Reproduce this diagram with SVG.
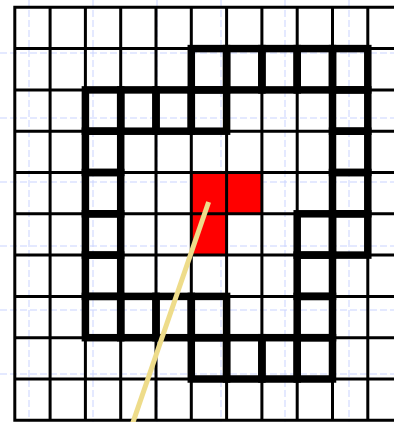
<svg xmlns="http://www.w3.org/2000/svg" width="394" height="422" viewBox="0 0 394 422">
<style>
.guide{stroke:#c9d3ff;stroke-width:1;stroke-dasharray:7 3;fill:none}
.grid{stroke:#000;stroke-width:3;fill:none}
.red{fill:#ff0000;stroke:none}
.thick{fill:none;stroke:#000;stroke-width:7.5}
.ray{stroke:#eedc8a;stroke-width:5;fill:none}
</style>
<rect x="0" y="0" width="394" height="422" fill="#fff"/>
<g id="guides">
<path class="guide" d="M29 0V422M93 0V422M157 0V422M221 0V422M285 0V422M349 0V422M0 53H394M0 118H394M0 182H394M0 246H394M0 310H394M0 374H394"/>
</g>
<g id="red-cells">
<rect class="red" x="191.3" y="172.5" width="35.3" height="41.3"/>
<rect class="red" x="226.6" y="172.5" width="35.3" height="41.3"/>
<rect class="red" x="191.3" y="213.8" width="35.3" height="41.3"/>
</g>
<g id="grid">
<path class="grid" d="M14.8 7.3V420.3M50.1 7.3V420.3M85.4 7.3V420.3M120.7 7.3V420.3M156 7.3V420.3M191.3 7.3V420.3M226.6 7.3V420.3M261.9 7.3V420.3M297.2 7.3V420.3M332.5 7.3V420.3M367.8 7.3V420.3M13.3 7.3H394M13.3 48.6H394M13.3 89.9H394M13.3 131.2H394M13.3 172.5H394M13.3 213.8H394M13.3 255.1H394M13.3 296.4H394M13.3 337.7H394M13.3 379H394M13.3 420.3H394"/>
</g>
<g id="outline">
<rect class="thick" x="191.3" y="48.6" width="35.3" height="41.3"/>
<rect class="thick" x="226.6" y="48.6" width="35.3" height="41.3"/>
<rect class="thick" x="261.9" y="48.6" width="35.3" height="41.3"/>
<rect class="thick" x="297.2" y="48.6" width="35.3" height="41.3"/>
<rect class="thick" x="332.5" y="48.6" width="35.3" height="41.3"/>
<rect class="thick" x="85.4" y="89.9" width="35.3" height="41.3"/>
<rect class="thick" x="120.7" y="89.9" width="35.3" height="41.3"/>
<rect class="thick" x="156" y="89.9" width="35.3" height="41.3"/>
<rect class="thick" x="191.3" y="89.9" width="35.3" height="41.3"/>
<rect class="thick" x="332.5" y="89.9" width="35.3" height="41.3"/>
<rect class="thick" x="85.4" y="131.2" width="35.3" height="41.3"/>
<rect class="thick" x="332.5" y="131.2" width="35.3" height="41.3"/>
<rect class="thick" x="85.4" y="172.5" width="35.3" height="41.3"/>
<rect class="thick" x="332.5" y="172.5" width="35.3" height="41.3"/>
<rect class="thick" x="85.4" y="213.8" width="35.3" height="41.3"/>
<rect class="thick" x="297.2" y="213.8" width="35.3" height="41.3"/>
<rect class="thick" x="332.5" y="213.8" width="35.3" height="41.3"/>
<rect class="thick" x="85.4" y="255.1" width="35.3" height="41.3"/>
<rect class="thick" x="297.2" y="255.1" width="35.3" height="41.3"/>
<rect class="thick" x="85.4" y="296.4" width="35.3" height="41.3"/>
<rect class="thick" x="120.7" y="296.4" width="35.3" height="41.3"/>
<rect class="thick" x="156" y="296.4" width="35.3" height="41.3"/>
<rect class="thick" x="191.3" y="296.4" width="35.3" height="41.3"/>
<rect class="thick" x="297.2" y="296.4" width="35.3" height="41.3"/>
<rect class="thick" x="191.3" y="337.7" width="35.3" height="41.3"/>
<rect class="thick" x="226.6" y="337.7" width="35.3" height="41.3"/>
<rect class="thick" x="261.9" y="337.7" width="35.3" height="41.3"/>
<rect class="thick" x="297.2" y="337.7" width="35.3" height="41.3"/>
</g>
<g id="ray">
<line class="ray" x1="208.6" y1="202" x2="132.4" y2="424"/>
</g>
</svg>
